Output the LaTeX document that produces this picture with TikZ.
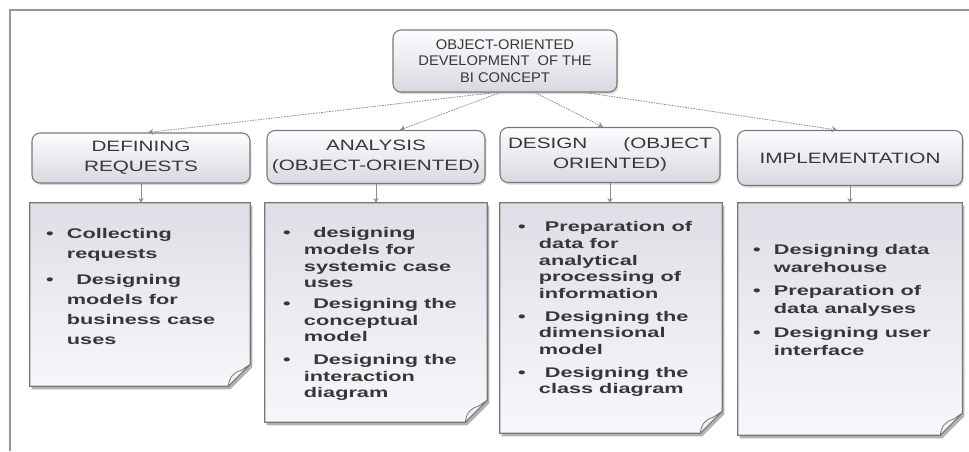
\documentclass[tikz,border=0pt]{standalone}
\usepackage{fontspec}
\setmainfont{Liberation Sans}
\newfontfamily\titlefont[FakeStretch=1.05]{Liberation Sans}
\newfontfamily\headfont[FakeStretch=1.38]{Liberation Sans}
\newfontfamily\notefont[FakeStretch=1.55]{Liberation Sans}
\usetikzlibrary{positioning,shapes,arrows.meta,backgrounds,fit,shadows}

\definecolor{framegray}{RGB}{150,150,150}
\definecolor{boxline}{RGB}{120,120,120}
\definecolor{boxtop}{RGB}{253,253,255}
\definecolor{boxbot}{RGB}{216,216,224}
\definecolor{notetop}{RGB}{222,222,230}
\definecolor{notebot}{RGB}{247,247,251}
\definecolor{txtgray}{RGB}{55,55,55}
\definecolor{linkgray}{RGB}{140,140,140}

\newcommand{\nitems}[1]{\begin{tabular}{@{}l@{\hspace{10pt}}l@{}}#1\end{tabular}}
\newcommand{\bul}{\textbullet}

\tikzset{
  hdr/.style={draw=boxline, line width=0.8pt, rounded corners=6pt,
    top color=boxtop, bottom color=boxbot,
    drop shadow={shadow xshift=1pt, shadow yshift=-1.5pt, fill=gray!60},
    align=center, text=txtgray, inner sep=2pt,
    font=\headfont\fontsize{11.25}{15}\selectfont},
  notebox/.style={inner sep=0pt},
  notetext/.style={anchor=north west, inner sep=0pt, text=txtgray, align=left},
  link/.style={linkgray, line width=0.6pt, dash pattern=on 1.2pt off 0.8pt,
    -{Stealth[length=4pt,width=4.5pt]}},
  down/.style={linkgray, line width=0.6pt, -{Stealth[length=3.5pt,width=4pt]}}
}

\begin{document}
\begin{tikzpicture}[x=0.75pt, y=-0.75pt]
    \useasboundingbox (0,0) rectangle (969,451);

    % Frame
    \draw[framegray, line width=1.2pt] (10,451) -- (10,10) -- (969,10);

    % Top box
    \node[hdr, minimum width=168pt, minimum height=46.5pt,
          font=\titlefont\fontsize{10.5}{12.4}\selectfont] (top) at (505,61)
          {OBJECT-ORIENTED\\DEVELOPMENT\ \ OF THE\\BI CONCEPT};

    % Phases
    \node[hdr, minimum width=163.5pt, minimum height=37.5pt] (def) at (141,158) {DEFINING\\REQUESTS};
    \node[hdr, minimum width=163.5pt, minimum height=39.75pt] (ana) at (376,157) {ANALYSIS\\(OBJECT-ORIENTED)};
    \node[hdr, minimum width=165pt, minimum height=41.25pt] (des) at (610,155) {DESIGN\hspace{2.4em}(OBJECT\\ORIENTED)};
    \node[hdr, minimum width=168.75pt, minimum height=41.25pt] (imp) at (850,158) {IMPLEMENTATION};

    % Notes
    \node[notebox, minimum width=165pt, minimum height=137.25pt] (n1) at (140,294.5) {};
    \node[notebox, minimum width=166.5pt, minimum height=164.25pt] (n2) at (376,312.5) {};
    \node[notebox, minimum width=166.5pt, minimum height=172.5pt] (n3) at (611,318) {};
    \node[notebox, minimum width=168pt, minimum height=174pt] (n4) at (850,319) {};

    \foreach \nb in {n1,n2,n3,n4} {
      \fill[gray!60] ([shift={(2,3)}]\nb.north west) -- ([shift={(2,3)}]\nb.north east)
        -- ([shift={(2,-19)}]\nb.south east) -- ([shift={(-20,3)}]\nb.south east)
        -- ([shift={(2,3)}]\nb.south west) -- cycle;
      \draw[boxline, line width=0.8pt, top color=notetop, bottom color=notebot]
        (\nb.north west) -- (\nb.north east) -- ([shift={(0,-22)}]\nb.south east)
        -- ([shift={(-22,0)}]\nb.south east) -- (\nb.south west) -- cycle;
      \draw[boxline, line width=0.6pt, fill=gray!12]
        ([shift={(0,-22)}]\nb.south east) -- ([shift={(-22,0)}]\nb.south east)
        .. controls ([shift={(-21,-9)}]\nb.south east) and ([shift={(-17,-14)}]\nb.south east)
        .. ([shift={(-9,-16)}]\nb.south east) -- cycle;
    }

    % Note texts
    \node[notetext, font=\notefont\bfseries\fontsize{10.5}{15}\selectfont] (t1)
      at ([shift={(16,21)}]n1.north west)
      {\nitems{\bul & Collecting\\ & requests\\[5pt]
               \bul & \hspace{7pt}Designing\\ & models for\\ & business case\\ & uses}};
    \node[notetext, font=\notefont\bfseries\fontsize{10.5}{12.5}\selectfont] (t2)
      at ([shift={(18,23)}]n2.north west)
      {\nitems{\bul & \hspace{7pt}designing\\ & models for\\ & systemic case\\ & uses\\[3pt]
               \bul & \hspace{7pt}Designing the\\ & conceptual\\ & model\\[4.5pt]
               \bul & \hspace{7pt}Designing the\\ & interaction\\ & diagram}};
    \node[notetext, font=\notefont\bfseries\fontsize{10.5}{12.5}\selectfont] (t3)
      at ([shift={(18,17)}]n3.north west)
      {\nitems{\bul & \hspace{4.5pt}Preparation of\\ & data for\\ & analytical\\ & processing of\\ & information\\[4.5pt]
               \bul & \hspace{4.5pt}Designing the\\ & dimensional\\ & model\\[4.5pt]
               \bul & \hspace{4.5pt}Designing the\\ & class diagram}};
    \node[notetext, font=\notefont\bfseries\fontsize{10.5}{13.5}\selectfont] (t4)
      at ([shift={(15,39)}]n4.north west)
      {\nitems{\bul & Designing data\\ & warehouse\\[4pt]
               \bul & Preparation of\\ & data analyses\\[4.5pt]
               \bul & Designing user\\ & interface}};

    % Links
    \draw[link] ([xshift=-7.5pt]top.south) -- ([xshift=5.25pt]def.north);
    \draw[link] ([xshift=-3.75pt]top.south) -- ([xshift=18pt]ana.north);
    \draw[link] ([xshift=22.5pt]top.south) -- ([xshift=-5.25pt]des.north);
    \draw[link] ([xshift=60pt]top.south) -- ([xshift=-9.75pt]imp.north);

    \draw[down] (def.south) -- (def.south |- n1.north);
    \draw[down] (ana.south) -- (ana.south |- n2.north);
    \draw[down] (des.south) -- (des.south |- n3.north);
    \draw[down] (imp.south) -- (imp.south |- n4.north);
\end{tikzpicture}
\end{document}
